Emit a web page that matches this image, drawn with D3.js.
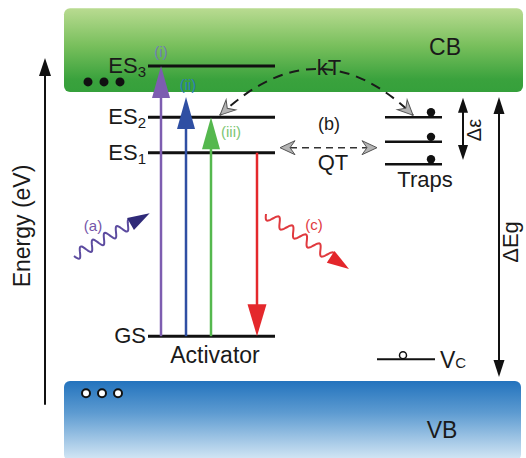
<!DOCTYPE html>
<html><head><meta charset="utf-8">
<script src="https://cdn.jsdelivr.net/npm/d3@7"></script>
<style>body{margin:0;background:#fff}svg{display:block}text{font-family:"Liberation Sans",Arial,sans-serif}</style>
</head><body>
<script>
// ---- data (energies in eV, relative to VB top) ----
const bandNames = ["CB", "VB"];
const bandBottoms = [4.0, -1.1];
const bandTops = [5.16, 0.0];
const levelNames = ["GS", "ES", "ES", "ES"];
const levelSubs = ["", "1", "2", "3"];
const levelEnergies = [0.62, 3.16, 3.65, 4.36];
const excitationLabels = ["(i)", "(ii)", "(iii)"];
const excitationTargets = [4.36, 3.93, 3.65];
const excitationPos = [161, 186, 211];
const excitationColors = ["#7d5db0", "#2f4fa3", "#55b84e"];
const excitationLabelColors = ["#6f7db6", "#2d7ab8", "#7cc673"];
const emissionFrom = 3.16, emissionTo = 0.62, emissionPos = 257;
const trapEnergies = [3.65, 3.31, 3.00];
const vcEnergy = 0.30;
const gapEdges = [0.0, 4.0];
const trapDepth = [3.06, 3.92];
const energyAxisRange = [-0.33, 4.47];

const W = 526, H = 458;
const x = d3.scaleLinear().domain([0, W]).range([0, W]);
const y = d3.scaleLinear().domain([0, 4]).range([381, 92]);

const svg = d3.select("body").append("svg").attr("width", W).attr("height", H);
const defs = svg.append("defs");
const g1 = defs.append("linearGradient").attr("id", "cb").attr("x1", 0).attr("x2", 0).attr("y1", 0).attr("y2", 1);
[["0%", "#b9db91"], ["45%", "#78bf5c"], ["85%", "#3aa23d"], ["100%", "#35a03b"]].forEach(s => g1.append("stop").attr("offset", s[0]).attr("stop-color", s[1]));
const g2 = defs.append("linearGradient").attr("id", "vb").attr("x1", 0).attr("x2", 0).attr("y1", 0).attr("y2", 1);
[["0%", "#2373bd"], ["40%", "#5d9bd1"], ["100%", "#d6e8f5"]].forEach(s => g2.append("stop").attr("offset", s[0]).attr("stop-color", s[1]));

// bands
svg.selectAll("rect.band").data(bandNames).join("rect")
  .attr("x", x(64)).attr("width", (d, i) => i ? x(457) : x(459))
  .attr("y", (d, i) => y(bandTops[i]))
  .attr("height", (d, i) => y(bandBottoms[i]) - y(bandTops[i]))
  .attr("rx", 6).attr("fill", (d, i) => i ? "url(#vb)" : "url(#cb)");
svg.append("text").attr("x", x(445)).attr("y", 55).attr("text-anchor", "middle").attr("font-size", 23).attr("fill", "#1a1a1a").text("CB");
svg.append("text").attr("x", x(442)).attr("y", 438).attr("text-anchor", "middle").attr("font-size", 23).attr("fill", "#1a1a1a").text("VB");

// dots in bands
const dotX = [88, 104, 120];
svg.selectAll("circle.e").data(dotX).join("circle").attr("cx", d => x(d)).attr("cy", y(4.14)).attr("r", 4.5).attr("fill", "#111");
svg.selectAll("circle.h").data(dotX).join("circle").attr("cx", d => x(d - 2)).attr("cy", y(-0.17)).attr("r", 4).attr("fill", "#fff").attr("stroke", "#111").attr("stroke-width", 2);

function triHead(px, py, angle, len, wid, color) {
  svg.append("path").attr("d", `M0,0 L${-len},${-wid / 2} L${-len},${wid / 2} Z`)
    .attr("transform", `translate(${px},${py}) rotate(${angle})`).attr("fill", color);
}
function grayHead(px, py, angle) {
  svg.append("path").attr("d", "M0,0 L-15,-7 L-10,0 L-15,7 Z")
    .attr("transform", `translate(${px},${py}) rotate(${angle})`)
    .attr("fill", "#b4b4b4").attr("stroke", "#555").attr("stroke-width", 1);
}

// energy axis
svg.append("line").attr("x1", x(45)).attr("x2", x(45)).attr("y1", y(energyAxisRange[0])).attr("y2", y(energyAxisRange[1]) + 14).attr("stroke", "#111").attr("stroke-width", 2);
triHead(x(45), y(energyAxisRange[1]), -90, 18, 12, "#111");
svg.append("text").attr("transform", `translate(${x(30)},${226}) rotate(-90)`).attr("text-anchor", "middle").attr("font-size", 23).attr("fill", "#1a1a1a").text("Energy (eV)");

// levels
svg.selectAll("line.level").data(levelEnergies).join("line")
  .attr("x1", x(148)).attr("x2", x(275)).attr("y1", d => y(d)).attr("y2", d => y(d))
  .attr("stroke", "#111").attr("stroke-width", 3);
levelNames.forEach((n, i) => {
  const t = svg.append("text").attr("x", x(146)).attr("y", y(levelEnergies[i]) + 7).attr("text-anchor", "end").attr("font-size", 22).attr("fill", "#1a1a1a");
  t.append("tspan").text(n);
  if (levelSubs[i]) t.append("tspan").attr("font-size", 15).attr("dy", 4).text(levelSubs[i]);
});
svg.append("text").attr("x", x(215)).attr("y", 363).attr("text-anchor", "middle").attr("font-size", 23).attr("fill", "#1a1a1a").text("Activator");

// excitation arrows
excitationTargets.forEach((e, i) => {
  const xp = x(excitationPos[i]);
  svg.append("line").attr("x1", xp).attr("x2", xp).attr("y1", y(levelEnergies[0])).attr("y2", y(e) + 28)
    .attr("stroke", excitationColors[i]).attr("stroke-width", 2.5);
  triHead(xp, y(e), -90, 32, 18, excitationColors[i]);
});
const labOff = [[0, -9], [2, -7], [20, 20]];
excitationLabels.forEach((l, i) => {
  svg.append("text").attr("x", x(excitationPos[i] + labOff[i][0])).attr("y", y(excitationTargets[i]) + labOff[i][1])
    .attr("text-anchor", "middle").attr("font-size", 15).attr("fill", excitationLabelColors[i]).text(l);
});
// emission
svg.append("line").attr("x1", x(emissionPos)).attr("x2", x(emissionPos)).attr("y1", y(emissionFrom)).attr("y2", y(emissionTo) - 28)
  .attr("stroke", "#e4282c").attr("stroke-width", 2.5);
triHead(x(emissionPos), y(emissionTo), 90, 32, 19, "#e4282c");

// wavy photons
function wave(p0, p1, periods, amp, color, headColor) {
  const dx = p1[0] - p0[0], dy = p1[1] - p0[1], L = Math.hypot(dx, dy);
  const nx = -dy / L, ny = dx / L;
  const pts = d3.range(121).map(k => {
    const t = k / 120, o = amp * Math.sin(2 * Math.PI * periods * t);
    return [p0[0] + dx * t + nx * o, p0[1] + dy * t + ny * o];
  });
  svg.append("path").attr("d", d3.line()(pts)).attr("fill", "none").attr("stroke", color).attr("stroke-width", 2);
  const ang = Math.atan2(dy, dx);
  triHead(p1[0] + Math.cos(ang) * 18, p1[1] + Math.sin(ang) * 18, ang * 180 / Math.PI, 22, 14, headColor);
}
wave([x(74), 256], [x(134), 222], 5, 5, "#5d4ca0", "#2f2a78");
svg.append("text").attr("x", x(93)).attr("y", 231).attr("text-anchor", "middle").attr("font-size", 15).attr("fill", "#7455a8").text("(a)");
wave([x(266), 214], [x(334), 259], 5, 5, "#e0393e", "#e3262b");
svg.append("text").attr("x", x(314)).attr("y", 230).attr("text-anchor", "middle").attr("font-size", 15).attr("fill", "#df3a3e").text("(c)");

// kT arc
const kS = [x(220), y(3.68)], kE = [x(413), y(3.68)], kC = [x(318), y(4.96)];
svg.append("path").attr("d", `M${kS[0]},${kS[1]} Q${kC[0]},${kC[1]} ${kE[0]},${kE[1]}`)
  .attr("fill", "none").attr("stroke", "#1a1a1a").attr("stroke-width", 2).attr("stroke-dasharray", "10,7").attr("stroke-dashoffset", -14);
grayHead(kS[0], kS[1], Math.atan2(kS[1] - kC[1], kS[0] - kC[0]) * 180 / Math.PI);
grayHead(kE[0], kE[1], Math.atan2(kE[1] - kC[1], kE[0] - kC[0]) * 180 / Math.PI);
svg.append("text").attr("x", x(329)).attr("y", 75).attr("text-anchor", "middle").attr("font-size", 22).attr("fill", "#1a1a1a").text("kT");

// QT
svg.append("line").attr("x1", x(290)).attr("x2", x(368)).attr("y1", y(3.16) - 5).attr("y2", y(3.16) - 5)
  .attr("stroke", "#333").attr("stroke-width", 1.6).attr("stroke-dasharray", "7,5");
grayHead(x(280), y(3.16) - 5, 180);
grayHead(x(377), y(3.16) - 5, 0);
svg.append("text").attr("x", x(329)).attr("y", 130).attr("text-anchor", "middle").attr("font-size", 18).attr("fill", "#1a1a1a").text("(b)");
svg.append("text").attr("x", x(333)).attr("y", 170).attr("text-anchor", "middle").attr("font-size", 22).attr("fill", "#1a1a1a").text("QT");

// traps
svg.selectAll("line.trap").data(trapEnergies).join("line")
  .attr("x1", x(385)).attr("x2", x(442)).attr("y1", d => y(d)).attr("y2", d => y(d))
  .attr("stroke", "#111").attr("stroke-width", 2.5);
svg.selectAll("circle.trap").data(trapEnergies).join("circle")
  .attr("cx", x(431)).attr("cy", d => y(d) - 5).attr("r", 4.2).attr("fill", "#111");
svg.append("text").attr("x", x(425)).attr("y", 187).attr("text-anchor", "middle").attr("font-size", 22).attr("fill", "#1a1a1a").text("Traps");

// Δε arrow
svg.append("line").attr("x1", x(463)).attr("x2", x(463)).attr("y1", y(trapDepth[0]) - 12).attr("y2", y(trapDepth[1]) + 12).attr("stroke", "#111").attr("stroke-width", 2);
triHead(x(463), y(trapDepth[1]), -90, 15, 10, "#111");
triHead(x(463), y(trapDepth[0]), 90, 15, 10, "#111");
svg.append("text").attr("transform", `translate(${x(481)},130) rotate(-90)`).attr("text-anchor", "middle").attr("font-size", 20).attr("fill", "#1a1a1a").text("Δε");

// ΔEg arrow
svg.append("line").attr("x1", x(499)).attr("x2", x(499)).attr("y1", y(gapEdges[0]) - 18).attr("y2", y(gapEdges[1]) + 18).attr("stroke", "#111").attr("stroke-width", 2);
triHead(x(499), y(gapEdges[1]) + 5, -90, 17, 11, "#111");
triHead(x(499), y(gapEdges[0]) - 4, 90, 17, 11, "#111");
svg.append("text").attr("transform", `translate(${x(518)},242) rotate(-90)`).attr("text-anchor", "middle").attr("font-size", 22).attr("fill", "#1a1a1a").text("ΔEg");

// Vc
svg.append("line").attr("x1", x(377)).attr("x2", x(435)).attr("y1", y(vcEnergy)).attr("y2", y(vcEnergy)).attr("stroke", "#111").attr("stroke-width", 2);
svg.append("circle").attr("cx", x(403)).attr("cy", y(vcEnergy) - 4).attr("r", 3.5).attr("fill", "#fff").attr("stroke", "#111").attr("stroke-width", 1.5);
const vt = svg.append("text").attr("x", x(440)).attr("y", 368).attr("font-size", 23).attr("fill", "#1a1a1a");
vt.append("tspan").text("V");
vt.append("tspan").attr("font-size", 15).attr("dy", 0).text("C");
</script>
</body></html>
